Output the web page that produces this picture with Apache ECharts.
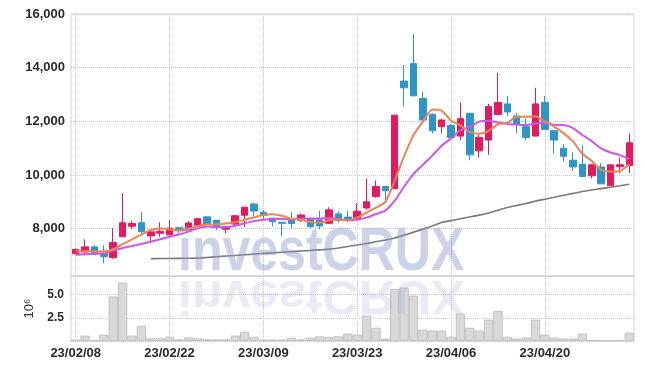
<!DOCTYPE html>
<html>
<head>
<meta charset="utf-8">
<script src="https://cdn.jsdelivr.net/npm/echarts@6/dist/echarts.min.js"></script>
<style>
  html, body { margin: 0; padding: 0; background: #fff; }
  #chart { width: 645px; height: 370px; }
</style>
</head>
<body>
<div id="chart"></div>
<script>
  // trading days (KRX), 23/02/08 .. 23/05/04
  const dates = [
    '23/02/08', '23/02/09', '23/02/10', '23/02/13', '23/02/14', '23/02/15', '23/02/16', '23/02/17', '23/02/20', '23/02/21',
    '23/02/22', '23/02/23', '23/02/24', '23/02/27', '23/02/28', '23/03/02', '23/03/03', '23/03/06', '23/03/07', '23/03/08',
    '23/03/09', '23/03/10', '23/03/13', '23/03/14', '23/03/15', '23/03/16', '23/03/17', '23/03/20', '23/03/21', '23/03/22',
    '23/03/23', '23/03/24', '23/03/27', '23/03/28', '23/03/29', '23/03/30', '23/03/31', '23/04/03', '23/04/04', '23/04/05',
    '23/04/06', '23/04/07', '23/04/10', '23/04/11', '23/04/12', '23/04/13', '23/04/14', '23/04/17', '23/04/18', '23/04/19',
    '23/04/20', '23/04/21', '23/04/24', '23/04/25', '23/04/26', '23/04/27', '23/04/28', '23/05/02', '23/05/03', '23/05/04'
  ];

  // [open, close, low, high]
  const ohlc = [
    [7070, 7230, 7040, 7250], [7130, 7320, 7020, 7600], [7320, 7050, 7010, 7380], [7070, 6950, 6710, 7380],
    [6920, 7480, 6880, 8020], [7700, 8220, 7680, 9320], [8090, 8190, 7980, 8300], [8220, 7890, 7830, 8610],
    [7730, 7880, 7530, 7900], [7830, 7900, 7700, 8240], [7770, 8020, 7760, 8320], [8030, 7930, 7830, 8060],
    [7950, 8210, 7950, 8280], [8130, 8370, 8100, 8400], [8440, 8190, 8150, 8440], [8310, 8050, 7940, 8320],
    [7980, 8080, 7830, 8080], [8170, 8480, 8100, 8520], [8500, 8800, 8060, 8820], [8920, 8660, 8450, 8970],
    [8610, 8500, 8350, 8700], [8390, 8260, 8080, 8390], [8240, 8200, 7730, 8250], [8330, 8190, 8040, 8610],
    [8310, 8510, 8250, 8560], [8360, 8080, 8020, 8370], [8330, 8100, 7980, 8670], [8200, 8700, 8180, 8800],
    [8550, 8300, 8230, 8650], [8430, 8350, 8230, 8670], [8350, 8650, 8330, 8950], [8770, 9000, 8700, 9870],
    [9200, 9570, 9150, 9790], [9570, 9420, 9070, 9600], [9490, 12230, 9480, 12250], [13500, 13250, 12550, 14100],
    [14150, 12950, 12950, 15250], [12850, 12050, 12050, 13100], [12250, 11650, 11550, 12300], [11800, 12050, 11550, 12100],
    [11850, 11400, 11300, 11900], [11450, 12100, 11300, 12700], [12300, 10750, 10550, 12300], [10900, 11400, 10650, 11500],
    [11300, 12550, 10750, 12650], [12250, 12700, 12250, 13800], [12650, 12350, 12200, 12950], [12200, 11900, 11550, 12300],
    [11800, 11400, 11300, 12100], [11450, 12650, 11450, 13250], [12700, 11700, 11700, 12950], [11650, 11300, 10800, 11650],
    [11000, 10700, 10500, 11150], [10550, 10300, 10150, 10850], [10400, 9940, 9940, 11100], [9970, 10380, 9880, 10400],
    [10300, 9670, 9670, 10450], [9600, 10380, 9600, 10380], [10310, 10380, 10070, 10650], [10350, 11200, 10070, 11550]
  ];

  const ma5 = [
    7160, 7160, 7150, 7150, 7230, 7420, 7600, 7780, 7950, 8010,
    7980, 7930, 7990, 8090, 8150, 8160, 8190, 8240, 8330, 8420,
    8510, 8540, 8480, 8360, 8330, 8250, 8220, 8310, 8340, 8310,
    8420, 8600, 8780, 9000, 9790, 10700, 11490, 11990, 12440, 12400,
    12030, 11850, 11600, 11540, 11640, 11890, 11940, 12170, 12170, 12190,
    12000, 11800, 11550, 11250, 10790, 10520, 10190, 10130, 10150, 10400
  ];

  const ma10 = [
    7020, 7045, 7060, 7080, 7180, 7280, 7355, 7430, 7515, 7605,
    7700, 7780, 7890, 8010, 8080, 8065, 8055, 8110, 8200, 8280,
    8330, 8360, 8360, 8340, 8370, 8375, 8380, 8400, 8350, 8320,
    8330, 8410, 8545, 8670, 9040, 9560, 10040, 10380, 10720, 11090,
    11360, 11670, 11790, 11990, 12020, 11960, 11900, 11880, 11860, 11920,
    11950, 11870, 11860, 11750, 11490, 11260, 10990, 10840, 10740, 10590
  ];

  const ma60 = [
    '-', '-', '-', '-', '-', '-', '-', '-', 6880, 6885,
    6890, 6893, 6896, 6900, 6926, 6952, 6978, 7000, 7027, 7049,
    7075, 7098, 7120, 7142, 7165, 7187, 7210, 7236, 7281, 7333,
    7389, 7448, 7512, 7575, 7654, 7758, 7870, 7982, 8101, 8232,
    8299, 8370, 8437, 8504, 8586, 8683, 8788, 8862, 8937, 9027,
    9098, 9169, 9243, 9314, 9385, 9441, 9493, 9545, 9597, 9653
  ];

  // volume, millions of shares
  const volume = [
    0.15, 0.58, 0.05, 0.68, 4.8, 6.3, 0.58, 1.65, 0.29, 0.29,
    0.46, 0.18, 0.39, 0.29, 0.18, 0.18, 0.18, 0.58, 1.0, 0.46,
    0.15, 0.15, 0.15, 0.36, 0.18, 0.36, 0.5, 0.45, 0.5, 0.78,
    0.7, 2.75, 1.43, 0.27, 5.6, 5.75, 4.9, 1.22, 1.12, 1.12,
    0.46, 2.95, 1.43, 1.12, 2.3, 3.25, 0.46, 0.26, 0.37, 2.3,
    0.7, 0.37, 0.27, 0.27, 0.8, 0.06, 0.06, 0.06, 0.06, 0.9
  ];

  const labelFont = '"Liberation Sans", Arial, sans-serif';
  const markFont = 'bold 61px "Liberation Sans", Arial, sans-serif';
  const dotted = { type: 'dotted', color: '#c3c8de', width: 1 };

  const chart = echarts.init(document.getElementById('chart'), null, { renderer: 'canvas' });

  chart.setOption({
    animation: false,
    backgroundColor: '#fff',
    grid: [
      { left: 71, right: 11, top: 14, height: 262, show: true, borderColor: '#d2d2d2', borderWidth: 1, backgroundColor: 'transparent' },
      { left: 71, right: 11, top: 276, height: 65, show: true, borderColor: '#d2d2d2', borderWidth: 1, backgroundColor: 'transparent' }
    ],
    xAxis: [
      {
        type: 'category', gridIndex: 0, data: dates, boundaryGap: true,
        axisLine: { show: false }, axisTick: { show: false }, axisLabel: { show: false },
        splitLine: { show: true, interval: 9, alignWithLabel: true, lineStyle: dotted }
      },
      {
        type: 'category', gridIndex: 1, data: dates, boundaryGap: true,
        axisLine: { show: false }, axisTick: { show: false },
        axisLabel: { interval: 9, margin: 6, color: '#2a2a2a', fontFamily: labelFont, fontWeight: 'bold', fontSize: 13 },
        splitLine: { show: true, interval: 9, alignWithLabel: true, lineStyle: dotted }
      }
    ],
    yAxis: [
      {
        type: 'value', gridIndex: 0, min: 6235, max: 16000, splitNumber: 5,
        axisLine: { show: false }, axisTick: { show: false },
        axisLabel: {
          showMinLabel: false, margin: 6, color: '#2a2a2a', fontFamily: labelFont, fontWeight: 'bold', fontSize: 13,
          formatter: (v) => v.toLocaleString('en-US')
        },
        splitLine: { show: true, lineStyle: dotted }
      },
      {
        type: 'value', gridIndex: 1, min: 0, max: 7, interval: 2.5,
        name: '10⁶', nameLocation: 'middle', nameRotate: 90, nameGap: 19,
        nameTextStyle: { color: '#333', fontFamily: labelFont, fontSize: 13 },
        axisLine: { show: false }, axisTick: { show: false },
        axisLabel: {
          showMinLabel: false, showMaxLabel: false, margin: 7, color: '#2a2a2a', fontFamily: labelFont, fontWeight: 'bold', fontSize: 12,
          formatter: (v) => v.toFixed(1)
        },
        splitLine: { show: true, lineStyle: dotted }
      }
    ],
    series: [
      {
        name: 'price', type: 'candlestick', xAxisIndex: 0, yAxisIndex: 0, data: ohlc, barWidth: 7,
        itemStyle: { color: '#e8185f', color0: '#2c95ca', borderColor: '#e8185f', borderColor0: '#2c95ca', borderWidth: 1 }
      },
      {
        name: 'MA60', type: 'line', xAxisIndex: 0, yAxisIndex: 0, data: ma60, symbol: 'none', smooth: 0.2,
        lineStyle: { color: '#7a7a7a', width: 1.6 }
      },
      {
        name: 'MA10', type: 'line', xAxisIndex: 0, yAxisIndex: 0, data: ma10, symbol: 'none', smooth: 0.2,
        lineStyle: { color: '#cf55ec', width: 2 }
      },
      {
        name: 'MA5', type: 'line', xAxisIndex: 0, yAxisIndex: 0, data: ma5, symbol: 'none', smooth: 0.2,
        lineStyle: { color: '#f08350', width: 2 }
      },
      {
        name: 'volume', type: 'bar', xAxisIndex: 1, yAxisIndex: 1, data: volume, barCategoryGap: '0%',
        itemStyle: { color: '#d9d9d9', borderColor: '#c2c2c2', borderWidth: 1 }
      }
    ],
    graphic: [
      {
        // watermark
        type: 'text', x: 178, y: 284, scaleX: 0.82, z: 100, silent: true,
        style: { text: 'investCRUX', fill: 'rgba(140,152,200,0.44)', font: markFont, verticalAlign: 'bottom' }
      },
      {
        // its reflection
        type: 'text', x: 178, y: 276, scaleX: 0.82, scaleY: -0.8, z: 100, silent: true,
        style: { text: 'investCRUX', y: 8, fill: 'rgba(140,152,200,0.2)', font: markFont, verticalAlign: 'bottom' }
      }
    ]
  });
</script>
</body>
</html>
